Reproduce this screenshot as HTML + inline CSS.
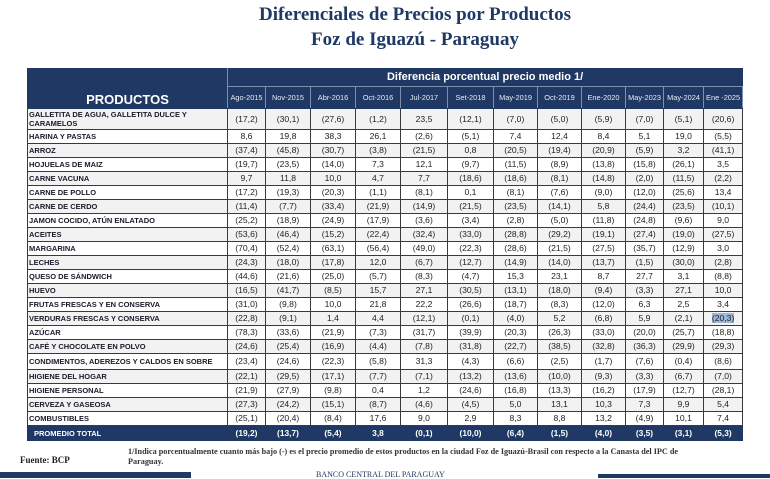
<!DOCTYPE html>
<html><head><meta charset="utf-8"><style>
body{margin:0;width:770px;height:478px;background:#fff;position:relative;overflow:hidden;font-family:"Liberation Sans",sans-serif}
.t{position:absolute;left:0;width:830px;text-align:center;font-family:"Liberation Serif",serif;font-weight:bold;color:#1f3864;font-size:19px}
table{position:absolute;left:27px;top:68px;border-collapse:collapse;table-layout:fixed;width:715px}
td{border:1px solid #3a3a3a;padding:0;text-align:center;font-size:8.6px;color:#222;height:13px;line-height:11px;overflow:hidden;white-space:nowrap}
td.p{text-align:left;font-weight:bold;font-size:7.5px;padding-left:1px;color:#1a1a2a}
tr:nth-child(odd) td{background:#f2f2f2}
tr:nth-child(even) td{background:#fff}
tr.h td{background:#1f3864;color:#fff;border-color:#1f3864}
tr.h2 td{background:#1f3864;color:#e8ecf4;font-size:7.4px;border-left:1px solid #7f8fae;border-right:1px solid #7f8fae;border-top:1px solid #1f3864;border-bottom:1px solid #1f3864;height:21px}
tr.tot td{background:#1f3864;color:#fff;font-weight:bold;font-size:8.4px;height:14px;border-color:#1f3864}
</style></head><body>
<div class="t" style="top:4px">Diferenciales de Precios por Productos</div>
<div class="t" style="top:29px">Foz de Iguazú - Paraguay</div>
<table>
<colgroup><col style="width:200px"><col style="width:38px"><col style="width:45px"><col style="width:45px"><col style="width:45px"><col style="width:47px"><col style="width:46px"><col style="width:44px"><col style="width:44px"><col style="width:44px"><col style="width:38px"><col style="width:40px"><col style="width:39px"></colgroup>
<tr class="h"><td rowspan="2" style="font-size:13px;font-weight:bold;vertical-align:bottom;padding-bottom:3px;border-right:1px solid #7f8fae">PRODUCTOS</td><td colspan="12" style="font-size:11px;font-weight:bold;height:17px;border-bottom:1px solid #7f8fae">Diferencia porcentual precio medio 1/</td></tr>
<tr class="h2"><td>Ago-2015</td><td>Nov-2015</td><td>Abr-2016</td><td>Oct-2016</td><td>Jul-2017</td><td>Set-2018</td><td>May-2019</td><td>Oct-2019</td><td>Ene-2020</td><td>May-2023</td><td>May-2024</td><td>Ene -2025</td></tr>
<tr><td class="p" style="height:20px;line-height:9px;white-space:normal;padding-right:40px">GALLETITA DE AGUA, GALLETITA DULCE Y CARAMELOS</td><td>(17,2)</td><td>(30,1)</td><td>(27,6)</td><td>(1,2)</td><td>23,5</td><td>(12,1)</td><td>(7,0)</td><td>(5,0)</td><td>(5,9)</td><td>(7,0)</td><td>(5,1)</td><td>(20,6)</td></tr>
<tr><td class="p">HARINA Y PASTAS</td><td>8,6</td><td>19,8</td><td>38,3</td><td>26,1</td><td>(2,6)</td><td>(5,1)</td><td>7,4</td><td>12,4</td><td>8,4</td><td>5,1</td><td>19,0</td><td>(5,5)</td></tr>
<tr><td class="p">ARROZ</td><td>(37,4)</td><td>(45,8)</td><td>(30,7)</td><td>(3,8)</td><td>(21,5)</td><td>0,8</td><td>(20,5)</td><td>(19,4)</td><td>(20,9)</td><td>(5,9)</td><td>3,2</td><td>(41,1)</td></tr>
<tr><td class="p">HOJUELAS DE MAIZ</td><td>(19,7)</td><td>(23,5)</td><td>(14,0)</td><td>7,3</td><td>12,1</td><td>(9,7)</td><td>(11,5)</td><td>(8,9)</td><td>(13,8)</td><td>(15,8)</td><td>(26,1)</td><td>3,5</td></tr>
<tr><td class="p">CARNE VACUNA</td><td>9,7</td><td>11,8</td><td>10,0</td><td>4,7</td><td>7,7</td><td>(18,6)</td><td>(18,6)</td><td>(8,1)</td><td>(14,8)</td><td>(2,0)</td><td>(11,5)</td><td>(2,2)</td></tr>
<tr><td class="p">CARNE DE POLLO</td><td>(17,2)</td><td>(19,3)</td><td>(20,3)</td><td>(1,1)</td><td>(8,1)</td><td>0,1</td><td>(8,1)</td><td>(7,6)</td><td>(9,0)</td><td>(12,0)</td><td>(25,6)</td><td>13,4</td></tr>
<tr><td class="p">CARNE DE CERDO</td><td>(11,4)</td><td>(7,7)</td><td>(33,4)</td><td>(21,9)</td><td>(14,9)</td><td>(21,5)</td><td>(23,5)</td><td>(14,1)</td><td>5,8</td><td>(24,4)</td><td>(23,5)</td><td>(10,1)</td></tr>
<tr><td class="p">JAMON COCIDO, ATÚN ENLATADO</td><td>(25,2)</td><td>(18,9)</td><td>(24,9)</td><td>(17,9)</td><td>(3,6)</td><td>(3,4)</td><td>(2,8)</td><td>(5,0)</td><td>(11,8)</td><td>(24,8)</td><td>(9,6)</td><td>9,0</td></tr>
<tr><td class="p">ACEITES</td><td>(53,6)</td><td>(46,4)</td><td>(15,2)</td><td>(22,4)</td><td>(32,4)</td><td>(33,0)</td><td>(28,8)</td><td>(29,2)</td><td>(19,1)</td><td>(27,4)</td><td>(19,0)</td><td>(27,5)</td></tr>
<tr><td class="p">MARGARINA</td><td>(70,4)</td><td>(52,4)</td><td>(63,1)</td><td>(56,4)</td><td>(49,0)</td><td>(22,3)</td><td>(28,6)</td><td>(21,5)</td><td>(27,5)</td><td>(35,7)</td><td>(12,9)</td><td>3,0</td></tr>
<tr><td class="p">LECHES</td><td>(24,3)</td><td>(18,0)</td><td>(17,8)</td><td>12,0</td><td>(6,7)</td><td>(12,7)</td><td>(14,9)</td><td>(14,0)</td><td>(13,7)</td><td>(1,5)</td><td>(30,0)</td><td>(2,8)</td></tr>
<tr><td class="p">QUESO DE SÁNDWICH</td><td>(44,6)</td><td>(21,6)</td><td>(25,0)</td><td>(5,7)</td><td>(8,3)</td><td>(4,7)</td><td>15,3</td><td>23,1</td><td>8,7</td><td>27,7</td><td>3,1</td><td>(8,8)</td></tr>
<tr><td class="p">HUEVO</td><td>(16,5)</td><td>(41,7)</td><td>(8,5)</td><td>15,7</td><td>27,1</td><td>(30,5)</td><td>(13,1)</td><td>(18,0)</td><td>(9,4)</td><td>(3,3)</td><td>27,1</td><td>10,0</td></tr>
<tr><td class="p">FRUTAS FRESCAS Y EN CONSERVA</td><td>(31,0)</td><td>(9,8)</td><td>10,0</td><td>21,8</td><td>22,2</td><td>(26,6)</td><td>(18,7)</td><td>(8,3)</td><td>(12,0)</td><td>6,3</td><td>2,5</td><td>3,4</td></tr>
<tr><td class="p">VERDURAS FRESCAS Y CONSERVA</td><td>(22,8)</td><td>(9,1)</td><td>1,4</td><td>4,4</td><td>(12,1)</td><td>(0,1)</td><td>(4,0)</td><td>5,2</td><td>(6,8)</td><td>5,9</td><td>(2,1)</td><td><span style="background:#9fb6d6">(20,3)</span></td></tr>
<tr><td class="p">AZÚCAR</td><td>(78,3)</td><td>(33,6)</td><td>(21,9)</td><td>(7,3)</td><td>(31,7)</td><td>(39,9)</td><td>(20,3)</td><td>(26,3)</td><td>(33,0)</td><td>(20,0)</td><td>(25,7)</td><td>(18,8)</td></tr>
<tr><td class="p">CAFÉ Y CHOCOLATE EN POLVO</td><td>(24,6)</td><td>(25,4)</td><td>(16,9)</td><td>(4,4)</td><td>(7,8)</td><td>(31,8)</td><td>(22,7)</td><td>(38,5)</td><td>(32,8)</td><td>(36,3)</td><td>(29,9)</td><td>(29,3)</td></tr>
<tr><td class="p" style="height:15px">CONDIMENTOS, ADEREZOS Y CALDOS EN SOBRE</td><td>(23,4)</td><td>(24,6)</td><td>(22,3)</td><td>(5,8)</td><td>31,3</td><td>(4,3)</td><td>(6,6)</td><td>(2,5)</td><td>(1,7)</td><td>(7,6)</td><td>(0,4)</td><td>(8,6)</td></tr>
<tr><td class="p">HIGIENE DEL HOGAR</td><td>(22,1)</td><td>(29,5)</td><td>(17,1)</td><td>(7,7)</td><td>(7,1)</td><td>(13,2)</td><td>(13,6)</td><td>(10,0)</td><td>(9,3)</td><td>(3,3)</td><td>(6,7)</td><td>(7,0)</td></tr>
<tr><td class="p">HIGIENE PERSONAL</td><td>(21,9)</td><td>(27,9)</td><td>(9,8)</td><td>0,4</td><td>1,2</td><td>(24,6)</td><td>(16,8)</td><td>(13,3)</td><td>(16,2)</td><td>(17,9)</td><td>(12,7)</td><td>(28,1)</td></tr>
<tr><td class="p">CERVEZA Y GASEOSA</td><td>(27,3)</td><td>(24,2)</td><td>(15,1)</td><td>(8,7)</td><td>(4,6)</td><td>(4,5)</td><td>5,0</td><td>13,1</td><td>10,3</td><td>7,3</td><td>9,9</td><td>5,4</td></tr>
<tr><td class="p">COMBUSTIBLES</td><td>(25,1)</td><td>(20,4)</td><td>(8,4)</td><td>17,6</td><td>9,0</td><td>2,9</td><td>8,3</td><td>8,8</td><td>13,2</td><td>(4,9)</td><td>10,1</td><td>7,4</td></tr>
<tr class="tot"><td class="p" style="color:#fff;font-size:7.5px;padding-left:6px">PROMEDIO TOTAL</td><td>(19,2)</td><td>(13,7)</td><td>(5,4)</td><td>3,8</td><td>(0,1)</td><td>(10,0)</td><td>(6,4)</td><td>(1,5)</td><td>(4,0)</td><td>(3,5)</td><td>(3,1)</td><td>(5,3)</td></tr>
</table>
<div style="position:absolute;left:128px;top:447px;width:585px;font-family:'Liberation Serif',serif;font-weight:bold;font-size:8.2px;color:#333;line-height:10px">1/Indica porcentualmente cuanto más bajo (-) es el precio promedio de estos productos en la ciudad Foz de Iguazú-Brasil con respecto a la Canasta del IPC de Paraguay.</div>
<div style="position:absolute;left:20px;top:455px;font-family:'Liberation Serif',serif;font-weight:bold;font-size:9px;color:#222">Fuente: BCP</div>
<div style="position:absolute;left:0;top:472px;width:191px;height:6px;background:#1f3864"></div>
<div style="position:absolute;left:598px;top:474px;width:172px;height:4px;background:#1f3864"></div>
<div style="position:absolute;left:316px;top:470px;font-family:'Liberation Serif',serif;font-size:8px;color:#1f3864">BANCO CENTRAL DEL PARAGUAY</div>
</body></html>
